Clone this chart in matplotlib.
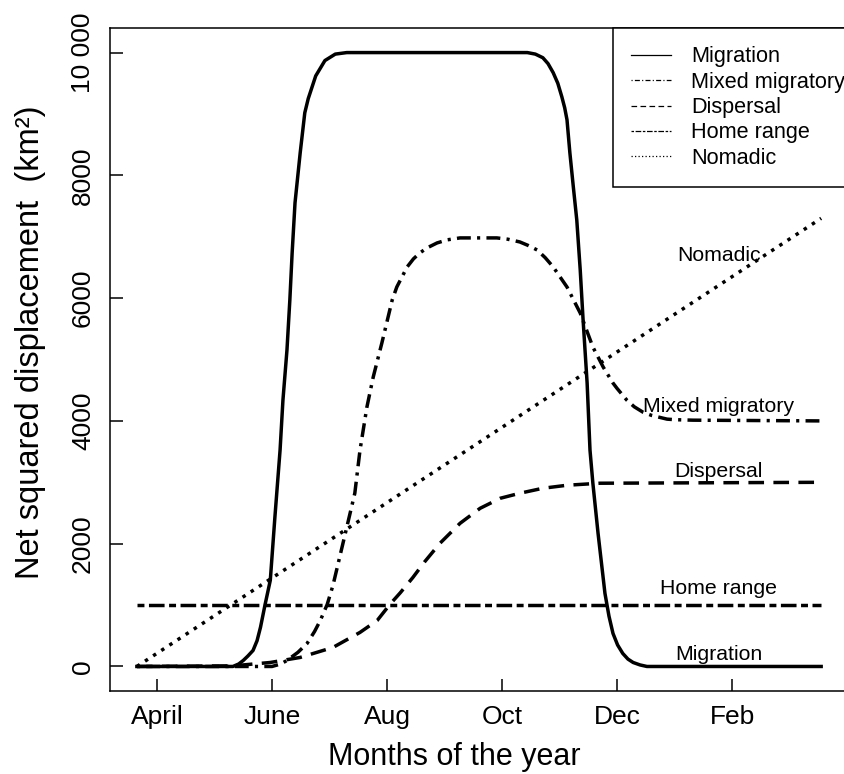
import matplotlib
matplotlib.use("Agg")
import matplotlib.pyplot as plt

# Months counted from 1 April
month_ticks = [0, 2, 4, 6, 8, 10]
month_labels = ["April", "June", "Aug", "Oct", "Dec", "Feb"]
nsd_ticks = [0, 2000, 4000, 6000, 8000, 10000]
nsd_labels = ["0", "2000", "4000", "6000", "8000", "10 000"]

# Migration: out to the summer range and back again
mig_t = [-0.35, 1.32, 1.42, 1.50, 1.58, 1.67, 1.74, 1.80, 1.88, 1.97, 2.05,
         2.14, 2.19, 2.26, 2.31, 2.35, 2.40, 2.49, 2.57, 2.63, 2.76, 2.92,
         3.10, 3.30, 6.44, 6.58, 6.71, 6.80, 6.89, 6.97, 7.04, 7.09, 7.13,
         7.18, 7.24, 7.30, 7.36, 7.41, 7.48, 7.53, 7.58, 7.67, 7.79, 7.86,
         7.93, 8.01, 8.10, 8.19, 8.28, 8.40, 8.52, 11.55]
mig_nsd = [0, 0, 40, 98, 170, 261, 420, 640, 1011, 1403, 2430,
           3523, 4338, 5154, 5969, 6736, 7552, 8367, 9019, 9250, 9620, 9870,
           9975, 10000, 10000, 9975, 9916, 9820, 9672, 9500, 9280, 9100, 8905,
           8367, 7812, 7274, 6459, 5643, 4616, 3523, 2985, 2169, 1191, 820,
           538, 350, 212, 120, 65, 25, 0, 0]

# Mixed migratory: peak of ~7000 then settles at 4000
mixed_t = [-0.35, 2.0, 2.15, 2.26, 2.45, 2.61, 2.74, 2.84, 2.96, 3.06, 3.30,
           3.44, 3.53, 3.65, 3.76, 3.91, 4.09, 4.17, 4.35, 4.46, 4.57, 4.70,
           4.87, 5.05, 5.27, 5.91, 6.10, 6.31, 6.45, 6.61, 6.75, 6.89, 7.13,
           7.36, 7.58, 7.76, 7.93, 8.0, 8.17, 8.30, 8.45, 8.60, 8.87, 9.0,
           9.32, 11.55]
mixed_nsd = [0, 0, 40, 98, 230, 375, 570, 750, 1011, 1321, 2267,
             2822, 3523, 4224, 4714, 5268, 5969, 6181, 6508, 6640, 6736, 6820,
             6899, 6950, 6981, 6981, 6960, 6915, 6860, 6785, 6660, 6508, 6181,
             5757, 5203, 4877, 4616, 4530, 4339, 4230, 4143, 4090, 4029, 4020,
             4012, 4000]

# Dispersal: one-way move, levels off at 3000
disp_t = [-0.35, 1.32, 1.97, 2.49, 3.06, 3.53, 3.83, 4.05, 4.23, 4.45, 4.65,
          4.92, 5.27, 5.62, 5.97, 6.31, 6.71, 7.13, 7.70, 11.55]
disp_nsd = [0, 10, 65, 147, 310, 555, 750, 1011, 1200, 1450, 1700,
            2006, 2332, 2577, 2740, 2822, 2903, 2952, 2985, 3000]

# Home range: constant
home_t = [-0.35, 11.55]
home_nsd = [1000, 1000]

# Nomadic: steady increase
nomad_t = [-0.35, 11.55]
nomad_nsd = [0, 7300]

plt.rcParams["font.family"] = ["Liberation Sans", "DejaVu Sans"]

fig = plt.figure(figsize=(8.45, 7.74), dpi=100)
# the right edge of the box runs off the page
ax = fig.add_axes([0.1296, 0.1072, 0.8905, 0.8566])

lw = 2.5
ax.plot(mig_t, mig_nsd, color="black", lw=lw, ls="-", label="Migration")
ax.plot(mixed_t, mixed_nsd, color="black", lw=lw, ls=(0, (0.9, 1.8, 4, 1.8)),
        label="Mixed migratory")
ax.plot(disp_t, disp_nsd, color="black", lw=lw, ls=(0, (4.5, 2.7)),
        label="Dispersal")
ax.plot(home_t, home_nsd, color="black", lw=lw, ls=(0, (2, 1.3, 4.5, 1.3)),
        label="Home range")
ax.plot(nomad_t, nomad_nsd, color="black", lw=lw, ls=(0, (1, 1.8)),
        label="Nomadic")

# curve names written next to each line
ax.text(9.77, 6600, "Nomadic", ha="center", va="baseline", fontsize=15.3)
ax.text(9.77, 4140, "Mixed migratory", ha="center", va="baseline", fontsize=15.3)
ax.text(9.77, 3080, "Dispersal", ha="center", va="baseline", fontsize=15.3)
ax.text(9.77, 1175, "Home range", ha="center", va="baseline", fontsize=15.3)
ax.text(9.77, 100, "Migration", ha="center", va="baseline", fontsize=15.3)

ax.set_xlim(-0.826, 12.26)
ax.set_ylim(-400, 10400)
ax.set_xticks(month_ticks, month_labels)
ax.set_yticks(nsd_ticks, nsd_labels)
ax.tick_params(direction="in", length=9, width=1.1, labelsize=19, color="black")
ax.tick_params(axis="x", pad=10)
ax.tick_params(axis="y", pad=10.5, labelrotation=90)
for lab in ax.get_yticklabels():
    lab.set_va("center")
for sp in ax.spines.values():
    sp.set_linewidth(1.1)

ax.set_xlabel("Months of the year", fontsize=22, va="baseline")
ax.xaxis.set_label_coords(0.458, -0.1116)
ax.set_ylabel("Net squared displacement  (km²)", fontsize=23.5, va="center")
ax.yaxis.set_label_coords(-0.105, 0.526)

leg = ax.legend(loc="upper left", bbox_to_anchor=(0.669, 1.0),
                borderaxespad=0, fontsize=15.6, frameon=True, fancybox=False,
                framealpha=1, edgecolor="black", handlelength=1.85,
                handletextpad=0.9, labelspacing=0.2, borderpad=0.85)
leg.get_frame().set_linewidth(1.1)
for line in leg.get_lines():
    line.set_linewidth(0.9)

fig.savefig("out.png", dpi=100)
